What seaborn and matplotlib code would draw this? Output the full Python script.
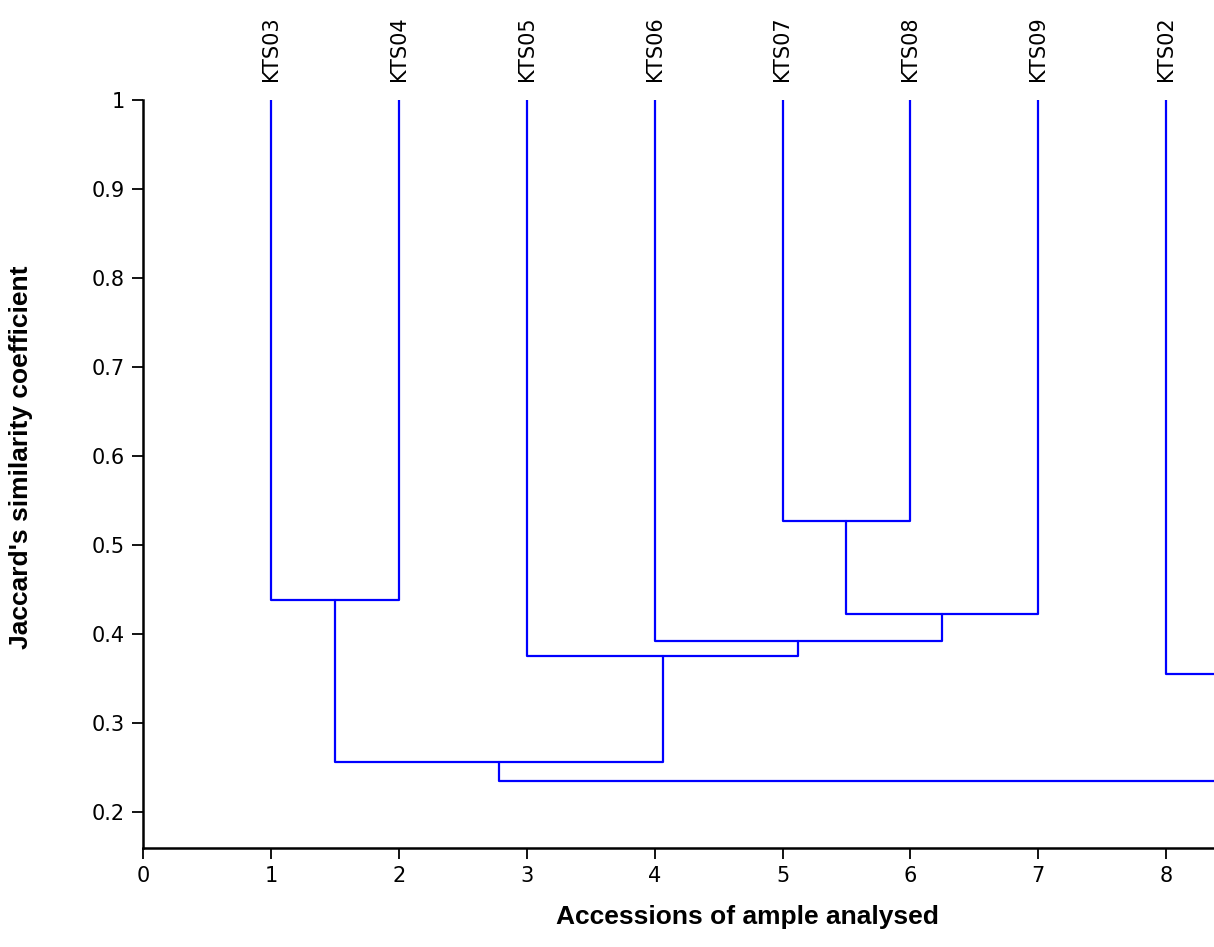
import pandas as pd
import matplotlib
matplotlib.use("Agg")
import matplotlib.pyplot as plt
import seaborn as sns

# leaves in plotted order (KTS01 sits off the right edge of the original)
leaves = ["KTS03", "KTS04", "KTS05", "KTS06", "KTS07", "KTS08", "KTS09", "KTS02", "KTS01"]
leaf_pos = [1, 2, 3, 4, 5, 6, 7, 8, 9]
leaf_top = 1.0

# merges: cluster name, left child, right child, similarity
link_name = ["c0", "c1", "c2", "c3", "c4", "c5", "c6", "c7"]
link_left = ["KTS03", "KTS07", "c1", "KTS06", "KTS05", "c0", "KTS02", "c5"]
link_right = ["KTS04", "KTS08", "KTS09", "c2", "c3", "c4", "KTS01", "c6"]
link_height = [0.439, 0.527, 0.423, 0.393, 0.376, 0.257, 0.355, 0.235]

yticks = [0.2, 0.3, 0.4, 0.5, 0.6, 0.7, 0.8, 0.9, 1]
ytick_labels = ["0.2", "0.3", "0.4", "0.5", "0.6", "0.7", "0.8", "0.9", "1"]
xticks = [0, 1, 2, 3, 4, 5, 6, 7, 8]

# node coordinates
xpos = dict(zip(leaves, leaf_pos))
ypos = {k: leaf_top for k in leaves}
rows = []
for name, l, r, h in zip(link_name, link_left, link_right, link_height):
    pts = [(xpos[l], ypos[l]), (xpos[l], h), (xpos[r], h), (xpos[r], ypos[r])]
    for i, (x, y) in enumerate(pts):
        rows.append({"link": name, "order": i, "x": x, "y": y})
    xpos[name] = (xpos[l] + xpos[r]) / 2
    ypos[name] = h
segs = pd.DataFrame(rows)

sns.set_style("ticks")
plt.rcParams["font.family"] = ["DejaVu Sans"]
plt.rcParams["text.color"] = "black"
plt.rcParams["xtick.color"] = "black"
plt.rcParams["ytick.color"] = "black"
plt.rcParams["axes.labelcolor"] = "black"

fig = plt.figure(figsize=(12.14, 9.47), dpi=100)
ax = fig.add_axes([143 / 1214, 1 - 848 / 947, 1 - 143 / 1214, (848 - 100) / 947])

sns.lineplot(data=segs, x="x", y="y", units="link", estimator=None, sort=False,
             color="#0000ff", linewidth=1.6, ax=ax, legend=False)

xmax = 1071 / 127.9
ax.set_xlim(0, xmax)
ax.set_ylim(0.16, 1.0)
ax.set_xticks(xticks)
ax.set_xticklabels([str(t) for t in xticks], fontsize=15)
ax.set_yticks(yticks)
ax.set_yticklabels(ytick_labels, fontsize=15)
ax.tick_params(direction="out", length=8, width=1.3, pad=5)

for side in ["top", "right"]:
    ax.spines[side].set_visible(False)
for side in ["left", "bottom"]:
    ax.spines[side].set_linewidth(1.8)
    ax.spines[side].set_color("black")

ax.set_xlabel("Accessions of ample analysed", fontsize=19, fontweight="bold",
              family=["Liberation Sans"])
ax.set_ylabel("Jaccard's similarity coefficient", fontsize=19, fontweight="bold",
              family=["Liberation Sans"])
ax.xaxis.set_label_coords(0.564, -0.076)
ax.yaxis.set_label_coords(-0.103, 0.523)

for name, x in zip(leaves, leaf_pos):
    if x <= xmax:
        ax.text(x, leaf_top + 0.021, name, rotation=90, ha="center", va="bottom",
                fontsize=15, clip_on=False)

fig.savefig("out.png", dpi=100, facecolor="white")
